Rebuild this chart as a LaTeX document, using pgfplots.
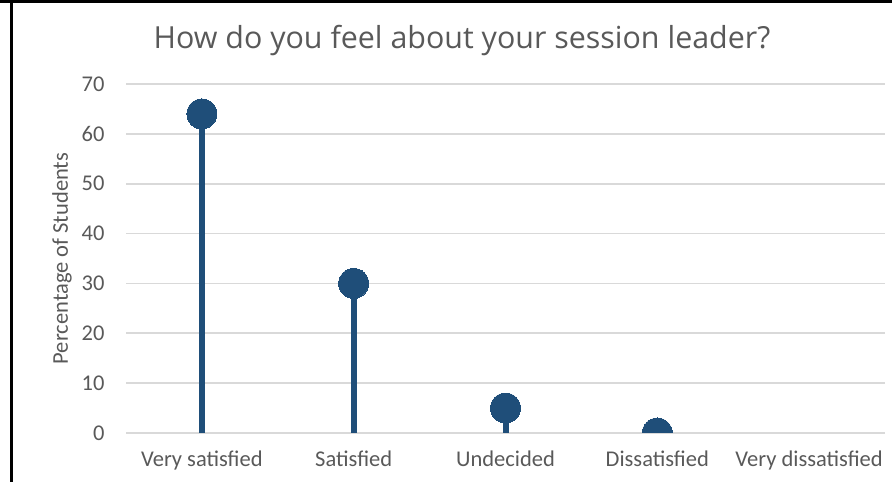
\documentclass[border=0pt]{standalone}
\usepackage{fontspec}
\setmainfont{Carlito}
\newfontfamily\titlefont{Open Sans}
\usepackage{pgfplots}
\pgfplotsset{compat=1.18}
\definecolor{lolli}{HTML}{1F4E79}
\definecolor{txt}{HTML}{595959}
\definecolor{gridc}{HTML}{D9D9D9}
\begin{document}
\begin{tikzpicture}
\path[use as bounding box] (0pt,0pt) rectangle (892pt,482pt);
\draw[black,line width=3pt] (11.5pt,0pt) -- (11.5pt,482pt);
\draw[black,line width=3pt] (0pt,480.5pt) -- (892pt,480.5pt);
\node[text=txt,font=\titlefont\fontsize{30.4}{34}\selectfont] at (462pt,441pt) {How do you feel about your session leader?};
\begin{axis}[
  at={(126pt,49pt)}, anchor=south west,
  width=759pt, height=349pt, scale only axis,
  xmin=-0.5, xmax=4.5, ymin=0, ymax=70,
  xtick={0,1,2,3,4},
  xticklabels={Very satisfied,Satisfied,Undecided,Dissatisfied,Very dissatisfied},
  ytick={0,10,...,70},
  ymajorgrids, major grid style={gridc,line width=1.6pt},
  axis line style={draw=none},
  major tick length=0pt,
  tick label style={text=txt,font=\fontsize{22.5}{25}\selectfont},
  /pgf/number format/assume math mode=true,
  xticklabel style={yshift=-14pt},
  yticklabel style={xshift=-18pt},
  every axis y label/.style={at={(axis description cs:0,0.5)},rotate=90,anchor=center,yshift=64pt},
  ylabel={Percentage of Students},
  ylabel style={text=txt,font=\fontsize{22.5}{25}\selectfont},
  clip marker paths=true,
]
\addplot[ycomb, draw=lolli, line width=6pt, mark=*, mark size=15pt, mark options={fill=lolli,draw=lolli,line width=0pt}]
  coordinates {(0,64) (1,30) (2,5) (3,0)};
\end{axis}
\end{tikzpicture}
\end{document}
